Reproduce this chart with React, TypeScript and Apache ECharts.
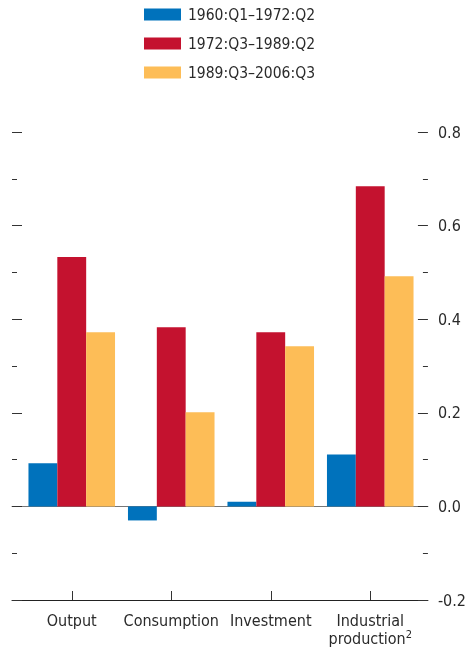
import React, { useEffect, useRef } from "react";
import * as echarts from "echarts";

const categories = ["Output", "Consumption", "Investment", "Industrial\nproduction{sup|2}"];
const seriesNames = ["1960:Q1–1972:Q2", "1972:Q3–1989:Q2", "1989:Q3–2006:Q3"];
const period1 = [0.092, -0.03, 0.01, 0.111];
const period2 = [0.533, 0.383, 0.372, 0.684];
const period3 = [0.372, 0.201, 0.342, 0.492];
const colors = ["#0072bc", "#c4122f", "#fdbd57"];
const yMin = -0.2;
const yMax = 0.8;
const yInterval = 0.2;

const FONT = "'Liberation Sans Narrow', 'DejaVu Sans Condensed', 'Roboto', sans-serif";

export default function App() {
  const ref = useRef<HTMLDivElement>(null);
  useEffect(() => {
    if (!ref.current) return;
    const chart = echarts.init(ref.current, null, { renderer: "svg" });
    const tickStyle = { color: "#333", width: 1 };
    const option: any = {
      animation: false,
      textStyle: { fontFamily: FONT },
      legend: {
        orient: "vertical",
        left: 144,
        top: 6,
        padding: 0,
        itemWidth: 37,
        itemHeight: 12,
        itemGap: 12,
        icon: "rect",
        data: seriesNames,
        textStyle: { fontFamily: FONT, fontSize: 15.5, color: "#2a2a2a", lineHeight: 17, padding: [0, 0, 0, 2] },
      },
      grid: [
        { left: 12, right: 39, top: 132, bottom: 57, containLabel: false },
        { left: 22, right: 49, top: 132, bottom: 57, containLabel: false },
      ],
      xAxis: [
        {
          type: "category",
          gridIndex: 0,
          position: "bottom",
          data: categories,
          axisLine: { show: true, onZero: false, lineStyle: { color: "#222", width: 1 } },
          axisTick: { show: false },
          axisLabel: { show: false },
          splitLine: { show: false },
        },
        {
          type: "category",
          gridIndex: 0,
          position: "top",
          data: categories,
          axisLine: { show: true, onZero: true, lineStyle: { color: "#777", width: 1 } },
          axisTick: { show: false },
          axisLabel: { show: false },
          splitLine: { show: false },
        },
        {
          type: "category",
          gridIndex: 1,
          position: "bottom",
          data: categories,
          axisLine: { show: false, onZero: false },
          axisTick: { show: true, alignWithLabel: true, inside: true, length: 9, lineStyle: tickStyle },
          axisLabel: {
            show: true,
            interval: 0,
            margin: 11,
            color: "#2a2a2a",
            fontFamily: FONT,
            fontSize: 16,
            lineHeight: 18,
            rich: { sup: { fontSize: 11, verticalAlign: "top", color: "#2a2a2a", fontFamily: FONT, lineHeight: 18, padding: [0, 0, 8, 0] } },
          },
          splitLine: { show: false },
        },
      ],
      yAxis: [
        {
          type: "value",
          gridIndex: 0,
          position: "left",
          min: yMin,
          max: yMax,
          interval: yInterval,
          axisLine: { show: false },
          axisTick: { show: true, inside: true, length: 10, lineStyle: tickStyle },
          minorTick: { show: true, splitNumber: 2, length: 5, lineStyle: tickStyle },
          axisLabel: { show: false },
          splitLine: { show: false },
        },
        {
          type: "value",
          gridIndex: 0,
          position: "right",
          min: yMin,
          max: yMax,
          interval: yInterval,
          axisLine: { show: false },
          axisTick: { show: true, inside: true, length: 10, lineStyle: tickStyle },
          minorTick: { show: true, splitNumber: 2, length: 5, lineStyle: tickStyle },
          axisLabel: {
            show: true,
            margin: 10,
            color: "#2a2a2a",
            fontFamily: FONT,
            fontSize: 16,
            formatter: (v: number) => v.toFixed(1),
          },
          splitLine: { show: false },
        },
        {
          type: "value",
          gridIndex: 1,
          min: yMin,
          max: yMax,
          interval: yInterval,
          show: false,
        },
      ],
      series: [period1, period2, period3].map((d, i) => ({
        name: seriesNames[i],
        type: "bar",
        xAxisIndex: 2,
        yAxisIndex: 2,
        data: d,
        barGap: "0%",
        barCategoryGap: "13%",
        itemStyle: { color: colors[i] },
        z: 1,
      })),
    };
    chart.setOption(option);
    return () => chart.dispose();
  }, []);
  return <div ref={ref} style={{ position: "fixed", left: 0, top: 0, width: 469, height: 657 }} />;
}
